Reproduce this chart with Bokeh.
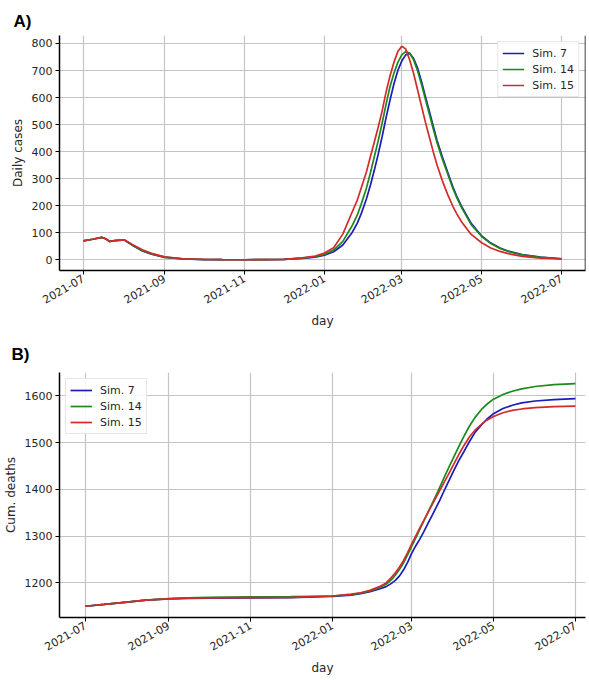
import math
from datetime import datetime
import pandas as pd
from bokeh.plotting import figure
from bokeh.models import Range1d, FixedTicker, DatetimeTickFormatter, Span
from bokeh.layouts import column
from bokeh.embed import file_html
from bokeh.resources import INLINE

# ---------------- data ----------------
month_ticks = ["2021-07-01", "2021-09-01", "2021-11-01", "2022-01-01",
               "2022-03-01", "2022-05-01", "2022-07-01"]
series_names = ["Sim. 7", "Sim. 14", "Sim. 15"]

case_dates = ["2021-07-01", "2021-07-08", "2021-07-15", "2021-07-18", "2021-07-21", "2021-07-25",
              "2021-08-01", "2021-08-08", "2021-08-15", "2021-08-22", "2021-09-01", "2021-09-15",
              "2021-10-01", "2021-10-15", "2021-11-01", "2021-11-15", "2021-12-01", "2021-12-15",
              "2021-12-25", "2022-01-01", "2022-01-08", "2022-01-15", "2022-01-22", "2022-01-26",
              "2022-01-29", "2022-02-02", "2022-02-05", "2022-02-08", "2022-02-11", "2022-02-14",
              "2022-02-17", "2022-02-20", "2022-02-23", "2022-02-26", "2022-03-01", "2022-03-04",
              "2022-03-07", "2022-03-10", "2022-03-13", "2022-03-16", "2022-03-19", "2022-03-22",
              "2022-03-25", "2022-03-28", "2022-04-01", "2022-04-05", "2022-04-09", "2022-04-12",
              "2022-04-16", "2022-04-23", "2022-05-01", "2022-05-08", "2022-05-15", "2022-05-22",
              "2022-06-01", "2022-06-15", "2022-07-01"]

cases_sim7 = [70, 76, 83, 78, 68, 71, 74, 52, 33, 21, 9, 3, 1, 0.4, 0.3, 0.4, 1.5, 5, 10, 17,
              30, 55, 100, 135, 170, 225, 275, 330, 390, 455, 525, 590, 650, 700, 735, 758,
              763, 745, 710, 660, 605, 550, 495, 440, 380, 325, 270, 235, 195, 135, 88, 62,
              44, 31, 19, 10, 4]
cases_sim14 = [70, 76, 83, 78, 68, 71, 74, 53, 34, 22, 10, 3.5, 1.2, 0.4, 0.3, 0.4, 1.7, 6, 12, 20,
               36, 68, 125, 165, 205, 265, 320, 380, 440, 505, 575, 640, 690, 730, 758, 770,
               765, 740, 700, 650, 595, 540, 485, 432, 372, 318, 264, 230, 190, 130, 86, 60,
               42, 30, 18, 9, 4]
cases_sim15 = [70, 76, 83, 78, 68, 71, 74, 55, 37, 24, 11, 4, 1.5, 0.5, 0.3, 0.5, 2, 7, 14, 25,
               45, 95, 175, 220, 265, 325, 380, 435, 490, 550, 620, 680, 730, 770, 790, 780,
               740, 690, 630, 570, 510, 455, 400, 350, 292, 242, 198, 170, 138, 94, 63, 44,
               31, 22, 13, 6, 3]

death_dates = ["2021-07-01", "2021-07-15", "2021-08-01", "2021-08-15", "2021-09-01", "2021-09-15",
               "2021-10-01", "2021-11-01", "2021-12-01", "2022-01-01", "2022-01-15", "2022-01-22",
               "2022-01-29", "2022-02-05", "2022-02-10", "2022-02-14", "2022-02-17", "2022-02-20",
               "2022-02-23", "2022-02-26", "2022-03-01", "2022-03-04", "2022-03-07", "2022-03-10",
               "2022-03-13", "2022-03-16", "2022-03-19", "2022-03-22", "2022-03-25", "2022-03-28",
               "2022-04-01", "2022-04-05", "2022-04-09", "2022-04-13", "2022-04-17", "2022-04-22",
               "2022-04-26", "2022-05-01", "2022-05-08", "2022-05-15", "2022-05-22", "2022-06-01",
               "2022-06-15", "2022-07-01"]

deaths_sim7 = [1150, 1154, 1159, 1163, 1166, 1167, 1167.5, 1168, 1168.5, 1171,
               1174, 1177, 1181, 1187, 1192, 1199, 1206, 1215, 1228, 1244,
               1263, 1279, 1293, 1309, 1326, 1343, 1360, 1377, 1396, 1414,
               1438, 1461, 1481, 1502, 1521, 1538, 1550, 1562, 1573, 1580,
               1585, 1589, 1592, 1594]
deaths_sim14 = [1150, 1154, 1159, 1163, 1166.5, 1168, 1169, 1170, 1170.5, 1172,
                1175, 1178, 1183, 1190, 1197, 1207, 1217, 1229, 1243, 1260,
                1278, 1296, 1314, 1332, 1350, 1368, 1386, 1405, 1424, 1443,
                1467, 1491, 1514, 1535, 1553, 1571, 1582, 1593, 1603, 1610,
                1615, 1620, 1624, 1626]
deaths_sim15 = [1150, 1154, 1159, 1163, 1166, 1167.5, 1168, 1168.5, 1169, 1172,
                1176, 1179, 1184, 1192, 1200, 1212, 1222, 1234, 1248, 1265,
                1283, 1300, 1317, 1333, 1350, 1366, 1382, 1398, 1414, 1430,
                1452, 1474, 1494, 1512, 1526, 1539, 1548, 1556, 1564, 1569,
                1572, 1575, 1577, 1578]

cases_ticks = [0, 100, 200, 300, 400, 500, 600, 700, 800]
deaths_ticks = [1200, 1300, 1400, 1500, 1600]

# ---------------- styling ----------------
COLORS = ["#1c1cb8", "#1b8a1b", "#d42a2a"]
FONT = "DejaVu Sans"
tick_ms = [pd.Timestamp(t).value / 1e6 for t in month_ticks]
fmt = "%Y-%m"
date_fmt = DatetimeTickFormatter(milliseconds=fmt, seconds=fmt, minsec=fmt, minutes=fmt,
                                 hourmin=fmt, hours=fmt, days=fmt, months=fmt, years=fmt)


def style(p, yticks, ylabel, title):
    p.xaxis.ticker = FixedTicker(ticks=tick_ms)
    p.xaxis.formatter = date_fmt
    p.yaxis.ticker = FixedTicker(ticks=yticks)
    p.xaxis.major_label_orientation = math.pi / 6
    p.xaxis.axis_label = "day"
    p.yaxis.axis_label = ylabel
    for ax in p.axis:
        ax.axis_line_color = "black"
        ax.axis_line_width = 1.5
        ax.major_tick_line_color = "black"
        ax.major_tick_out = 4
        ax.major_tick_in = 0
        ax.minor_tick_line_color = None
        ax.major_label_text_font = FONT
        ax.major_label_text_font_size = "11px"
        ax.major_label_text_color = "#262626"
        ax.major_label_standoff = 3
        ax.axis_label_text_font = FONT
        ax.axis_label_text_font_size = "12px"
        ax.axis_label_text_font_style = "normal"
        ax.axis_label_text_color = "#262626"
        ax.axis_label_standoff = 4
    p.grid.grid_line_color = "#c4c4c4"
    p.grid.grid_line_width = 1.2
    p.outline_line_color = None
    p.background_fill_color = "white"
    p.border_fill_color = "white"
    p.title.text = title
    p.title.align = "left"
    p.title.text_font = "Liberation Sans"
    p.title.text_font_size = "17px"
    p.title.text_font_style = "bold"
    p.title.text_color = "black"


# ---------------- top panel ----------------
cx = pd.to_datetime(case_dates)
x1_end = datetime(2022, 7, 19, 6)
p1 = figure(width=587, height=334, output_backend="svg", toolbar_location=None,
            x_axis_type="datetime",
            x_range=Range1d(datetime(2021, 6, 12, 18), x1_end),
            y_range=Range1d(-39.5, 829.5),
            min_border_left=48, min_border_right=2, min_border_top=35, min_border_bottom=64)
for name, vals, col in zip(series_names, [cases_sim7, cases_sim14, cases_sim15], COLORS):
    p1.line(cx, vals, line_color=col, line_width=1.7, legend_label=name)
style(p1, cases_ticks, "Daily cases", "A)")
# right spine of the top panel
p1.add_layout(Span(location=pd.Timestamp(x1_end).value / 1e6, dimension="height",
                   line_color="black", line_width=1.5))
p1.title.offset = -46
p1.title.standoff = 10
p1.legend.location = "top_right"

# ---------------- bottom panel ----------------
dx = pd.to_datetime(death_dates)
p2 = figure(width=587, height=344, output_backend="svg", toolbar_location=None,
            x_axis_type="datetime",
            x_range=Range1d(datetime(2021, 6, 11, 17), datetime(2022, 7, 8, 12)),
            y_range=Range1d(1126, 1650),
            min_border_left=50, min_border_right=2, min_border_top=38, min_border_bottom=60)
for name, vals, col in zip(series_names, [deaths_sim7, deaths_sim14, deaths_sim15], COLORS):
    p2.line(dx, vals, line_color=col, line_width=1.7, legend_label=name)
style(p2, deaths_ticks, "Cum. deaths", "B)")
p2.title.offset = -48
p2.title.standoff = 17
p2.legend.location = "top_left"

for p in (p1, p2):
    lg = p.legend[0]
    lg.label_text_font = FONT
    lg.label_text_font_size = "11px"
    lg.label_text_color = "#262626"
    lg.border_line_color = "#d0d0d0"
    lg.border_line_width = 1
    lg.background_fill_alpha = 0.85
    lg.glyph_width = 22
    lg.glyph_height = 14
    lg.label_height = 14
    lg.spacing = 2
    lg.padding = 4
    lg.margin = 6
    lg.label_standoff = 8

layout = column(p1, p2, spacing=0)
open("out.html", "w").write(file_html(layout, INLINE))
